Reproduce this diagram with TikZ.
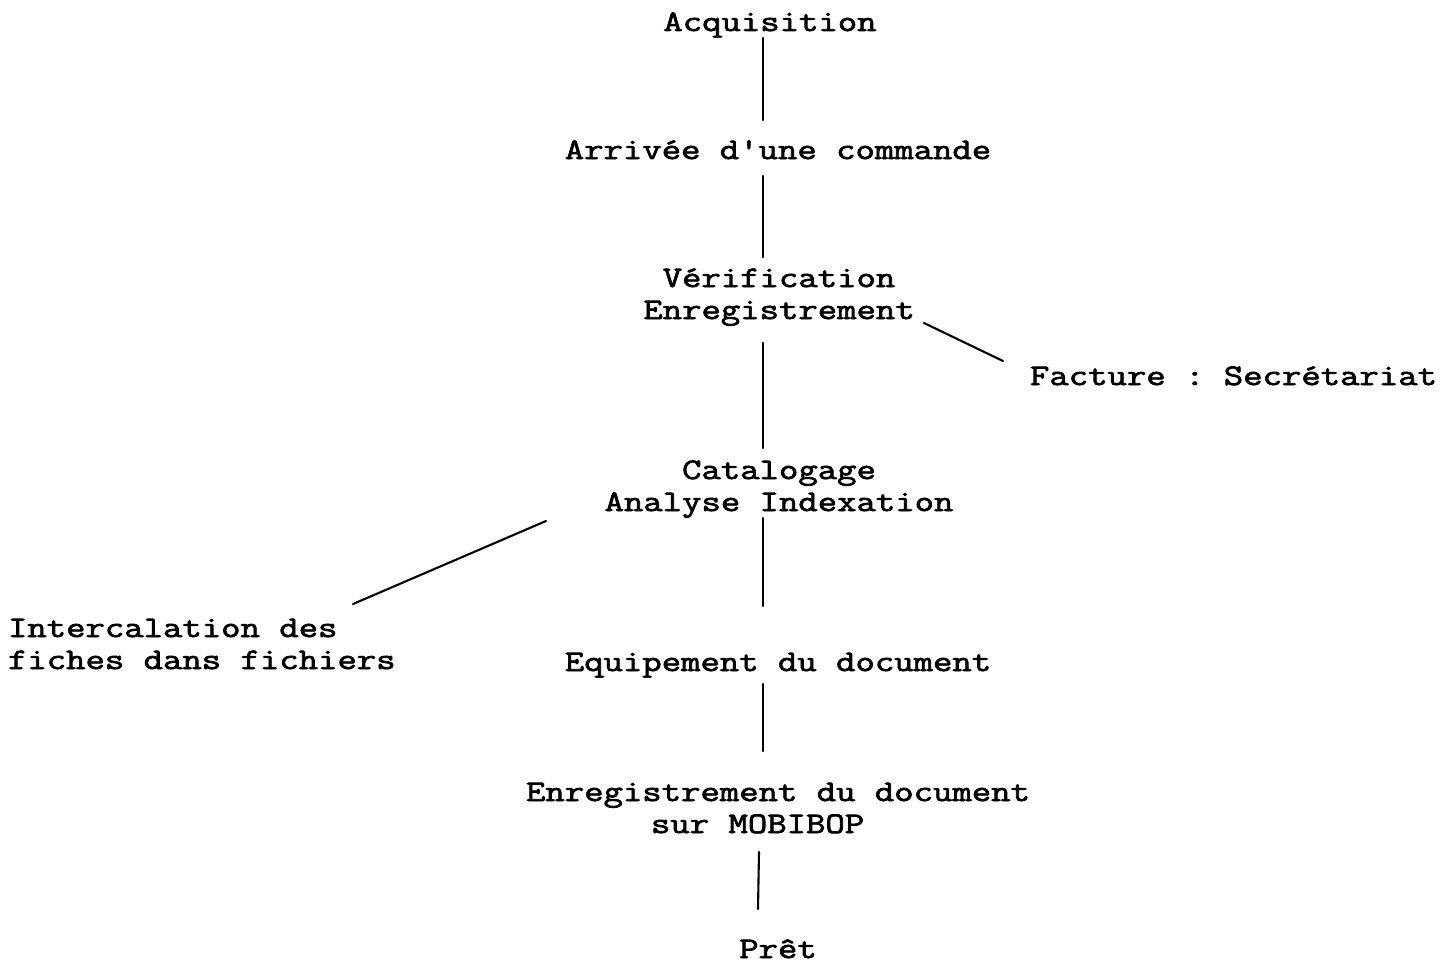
\documentclass[tikz,border=0pt]{standalone}
\usepackage{fontspec}
\setmonofont[FakeBold=2.4,FakeStretch=1.26]{Latin Modern Mono}
\begin{document}
\begin{tikzpicture}[x=0.02cm,y=-0.02cm,
  lbl/.style={anchor=base,inner sep=0pt,outer sep=0pt,font=\ttfamily\fontsize{17}{17}\selectfont},
  lblw/.style={lbl,anchor=base west},
  conn/.style={line width=1.2pt,line cap=round}]
\useasboundingbox (0,0) rectangle (1453,963);
% texts
\node[lbl] (acq) at (770,31) {Acquisition};
\node[lbl] (arr) at (778,159) {Arrivée d'une commande};
\node[lbl] (ver1) at (779,287) {Vérification};
\node[lbl] (ver2) at (779,319) {Enregistrement};
\node[lblw] (fac) at (1030,385) {Facture : Secrétariat};
\node[lbl] (cat1) at (779,479) {Catalogage};
\node[lbl] (cat2) at (779,511) {Analyse Indexation};
\node[lblw] (int1) at (8,637) {Intercalation des};
\node[lblw] (int2) at (8,669) {fiches dans fichiers};
\node[lbl] (equ) at (778,671) {Equipement du document};
\node[lbl] (enr1) at (778,801) {Enregistrement du document};
\node[lblw] (enr2) at (651,833) {sur MOBIBOP};
\node[lbl] (pret) at (778,958) {Prêt};
% connector end points
\coordinate (a1) at (763,38);  \coordinate (a2) at (763,120);
\coordinate (b1) at (763,176); \coordinate (b2) at (763,257);
\coordinate (c1) at (763,343); \coordinate (c2) at (763,448);
\coordinate (d1) at (763,518); \coordinate (d2) at (763,606);
\coordinate (e1) at (763,684); \coordinate (e2) at (763,751);
\coordinate (f1) at (759,852); \coordinate (f2) at (758,909);
\coordinate (g1) at (924,323); \coordinate (g2) at (1003,361);
\coordinate (h1) at (546,521); \coordinate (h2) at (353,604);
% connectors
\draw[conn] (a1) -- (a2);
\draw[conn] (b1) -- (b2);
\draw[conn] (c1) -- (c2);
\draw[conn] (d1) -- (d2);
\draw[conn] (e1) -- (e2);
\draw[conn] (f1) -- (f2);
\draw[conn] (g1) -- (g2);
\draw[conn] (h1) -- (h2);
\end{tikzpicture}
\end{document}
